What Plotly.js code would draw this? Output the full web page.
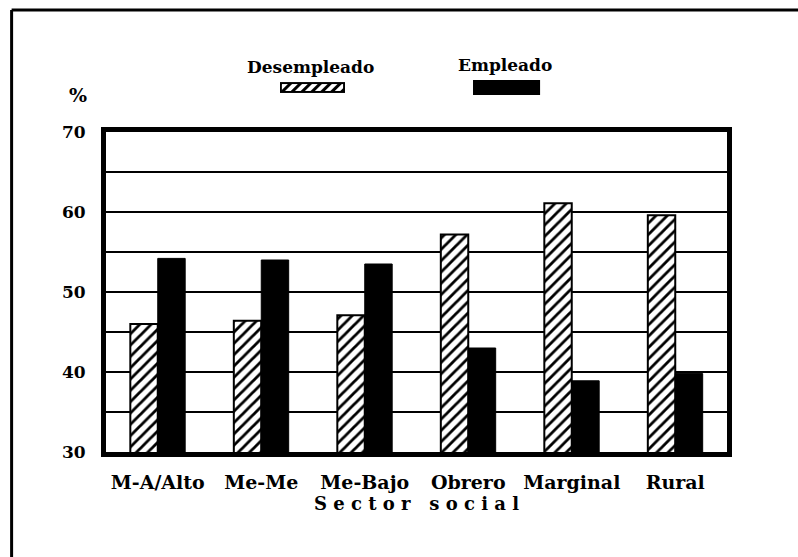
<!DOCTYPE html>
<html>
<head>
<meta charset="utf-8">
<script src="https://cdn.plot.ly/plotly-3.0.1.min.js"></script>
<style>html,body{margin:0;padding:0;background:#fff;}#chart{width:798px;height:557px;}</style>
</head>
<body>
<div id="chart"></div>
<script>
const categories = ["M-A/Alto", "Me-Me", "Me-Bajo", "Obrero", "Marginal", "Rural"];
const desempleado = [46.0, 46.4, 47.1, 57.2, 61.1, 59.6];
const empleado = [54.2, 54.0, 53.5, 43.0, 38.9, 39.8];
const yTicks = [30, 40, 50, 60, 70];
const seriesNames = ["Desempleado", "Empleado"];

const FONT = "DejaVu Serif, Liberation Serif, serif";

const hatchSvg = 'data:image/svg+xml;utf8,' + encodeURIComponent(
  '<svg xmlns="http://www.w3.org/2000/svg" width="65" height="11" viewBox="0 0 65 11">' +
  '<defs><pattern id="p" width="7" height="7" patternUnits="userSpaceOnUse" patternTransform="rotate(45)">' +
  '<rect width="7" height="7" fill="white"/><rect x="0" y="0" width="3" height="7" fill="black"/></pattern></defs>' +
  '<rect x="1" y="1" width="63" height="9" fill="url(#p)" stroke="black" stroke-width="2"/></svg>');

const traces = [
  {
    type: "bar", name: seriesNames[0], x: categories, y: desempleado,
    marker: {color: "white", line: {color: "black", width: 2},
      pattern: {shape: "/", fgcolor: "black", bgcolor: "white", size: 8, solidity: 0.35}},
    hoverinfo: "x+y"
  },
  {
    type: "bar", name: seriesNames[1], x: categories, y: empleado,
    marker: {color: "black", line: {color: "black", width: 1}},
    hoverinfo: "x+y"
  }
];

const layout = {
  width: 798, height: 557,
  margin: {l: 106, r: 71, t: 132, b: 105},
  paper_bgcolor: "white", plot_bgcolor: "white",
  showlegend: false,
  barmode: "group", bargap: 0.47, bargroupgap: 0,
  font: {family: FONT, color: "black", size: 17, weight: "bold"},
  xaxis: {
    type: "category", range: [-0.5, 5.5],
    showline: true, mirror: true, linecolor: "black", linewidth: 5,
    showgrid: false, ticks: "", ticklabelstandoff: 9,
    tickfont: {family: FONT, size: 19, weight: "bold", color: "black"},
    title: {text: "S e c t o r   s o c i a l", standoff: 2,
      font: {family: FONT, size: 18, weight: "bold", color: "black"}},
    fixedrange: true
  },
  yaxis: {
    range: [30, 70], tickvals: yTicks, ticktext: yTicks.map(String),
    showline: true, mirror: true, linecolor: "black", linewidth: 5,
    showgrid: true, gridcolor: "black", gridwidth: 2,
    minor: {dtick: 5, showgrid: true, gridcolor: "black", gridwidth: 2, ticks: ""},
    ticks: "", ticklabelstandoff: 12, zeroline: false,
    tickfont: {family: FONT, size: 17, weight: "bold", color: "black"},
    fixedrange: true
  },
  annotations: [
    {xref: "paper", yref: "paper", x: -0.045, y: 1.116, xanchor: "center", yanchor: "middle",
      text: "%", showarrow: false, font: {family: FONT, size: 19, weight: "bold"}},
    {xref: "paper", yref: "paper", x: 0.330, y: 1.203, xanchor: "center", yanchor: "middle",
      text: seriesNames[0], showarrow: false, font: {family: FONT, size: 17, weight: "bold"}},
    {xref: "paper", yref: "paper", x: 0.6425, y: 1.209, xanchor: "center", yanchor: "middle",
      text: seriesNames[1], showarrow: false, font: {family: FONT, size: 17, weight: "bold"}}
  ],
  images: [
    {source: hatchSvg, xref: "paper", yref: "paper", x: 0.280, y: 1.156,
      sizex: 0.105, sizey: 0.034, xanchor: "left", yanchor: "top", sizing: "stretch", layer: "above"}
  ],
  shapes: [
    {type: "rect", xref: "paper", yref: "paper", x0: 0.591, x1: 0.699, y0: 1.116, y1: 1.1625,
      fillcolor: "black", line: {width: 0}},
    {type: "line", xref: "paper", yref: "paper", x0: -0.152, x1: -0.152, y0: -0.33, y1: 1.381,
      line: {color: "black", width: 3}},
    {type: "line", xref: "paper", yref: "paper", x0: -0.152, x1: 1.13, y0: 1.381, y1: 1.381,
      line: {color: "black", width: 3}}
  ]
};

Plotly.newPlot("chart", traces, layout, {displayModeBar: false, staticPlot: true});
</script>
</body>
</html>
